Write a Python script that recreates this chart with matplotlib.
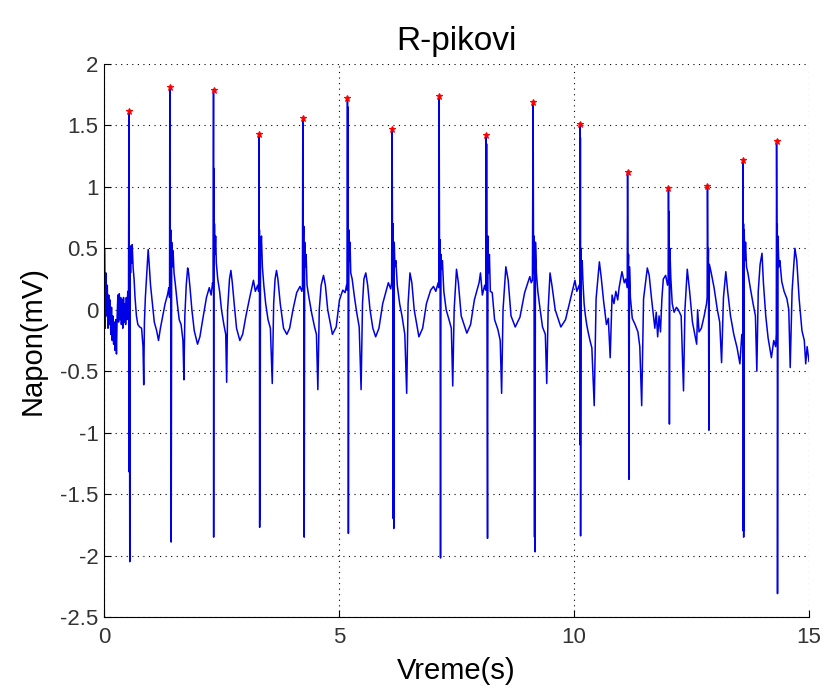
import matplotlib
matplotlib.use("Agg")
import matplotlib.pyplot as plt

# ECG trace (time in s, voltage in mV)
time_s = [
    0.000, 0.010, 0.025, 0.040, 0.055, 0.070, 0.085, 0.100, 0.115, 0.130,
    0.145, 0.160, 0.175, 0.190, 0.205, 0.220, 0.235, 0.250, 0.265, 0.280,
    0.295, 0.310, 0.325, 0.340, 0.355, 0.370, 0.385, 0.400, 0.415, 0.430,
    0.445, 0.460, 0.475, 0.490, 0.505, 0.515, 0.522,
    # beat 1
    0.530, 0.537, 0.541, 0.548, 0.556, 0.565, 0.575, 0.590, 0.600, 0.620,
    0.640, 0.660, 0.690, 0.720, 0.760, 0.800, 0.830, 0.845, 0.860, 0.880,
    0.910, 0.940, 0.960, 0.990, 1.030, 1.070, 1.120, 1.160, 1.200, 1.250,
    1.300, 1.350, 1.380, 1.395,
    # beat 2
    1.400, 1.410, 1.420, 1.430, 1.440, 1.455, 1.470, 1.490, 1.520, 1.560,
    1.600, 1.640, 1.680, 1.700, 1.720, 1.750, 1.780, 1.800, 1.830, 1.870,
    1.920, 1.990, 2.040, 2.100, 2.180, 2.240, 2.280, 2.310, 2.325,
    # beat 3
    2.330, 2.333, 2.338, 2.345, 2.350, 2.360, 2.375, 2.390, 2.420, 2.460,
    2.500, 2.550, 2.590, 2.610, 2.630, 2.670, 2.700, 2.730, 2.770, 2.820,
    2.890, 2.950, 3.020, 3.100, 3.180, 3.220, 3.270, 3.290,
    # beat 4
    3.300, 3.304, 3.307, 3.312, 3.316, 3.320, 3.330, 3.350, 3.370, 3.400,
    3.440, 3.490, 3.540, 3.580, 3.610, 3.640, 3.670, 3.700, 3.750, 3.820,
    3.890, 3.950, 4.020, 4.100, 4.170, 4.210, 4.222,
    # beat 5
    4.230, 4.240, 4.250, 4.260, 4.270, 4.285, 4.300, 4.320, 4.360, 4.420,
    4.480, 4.520, 4.550, 4.580, 4.620, 4.670, 4.710, 4.760, 4.860, 4.940,
    5.010, 5.080, 5.130, 5.160, 5.173,
    # beat 6
    5.180, 5.185, 5.190, 5.200, 5.210, 5.220, 5.235, 5.250, 5.280, 5.330,
    5.380, 5.430, 5.470, 5.500, 5.530, 5.570, 5.610, 5.660, 5.720, 5.780,
    5.850, 5.930, 6.000, 6.050, 6.100, 6.120,
    # beat 7
    6.130, 6.140, 6.150, 6.155, 6.160, 6.165, 6.175, 6.190, 6.210, 6.240,
    6.290, 6.340, 6.400, 6.440, 6.470, 6.510, 6.550, 6.600, 6.700, 6.780,
    6.860, 6.950, 7.010, 7.060, 7.110, 7.122,
    # beat 8
    7.130, 7.140, 7.150, 7.160, 7.170, 7.185, 7.200, 7.230, 7.280, 7.340,
    7.390, 7.420, 7.450, 7.500, 7.540, 7.600, 7.720, 7.800, 7.880, 7.980,
    8.010, 8.050, 8.100, 8.122,
    # beat 9
    8.130, 8.135, 8.140, 8.160, 8.170, 8.180, 8.200, 8.220, 8.260, 8.310,
    8.380, 8.430, 8.460, 8.490, 8.550, 8.600, 8.660, 8.750, 8.850, 8.950,
    9.060, 9.090, 9.115,
    # beat 10
    9.130, 9.140, 9.150, 9.160, 9.165, 9.170, 9.180, 9.200, 9.230, 9.280,
    9.330, 9.390, 9.420, 9.450, 9.490, 9.530, 9.600, 9.720, 9.820, 9.920,
    10.020, 10.060, 10.110, 10.124,
    # beat 11
    10.130, 10.133, 10.136, 10.140, 10.150, 10.160, 10.175, 10.190, 10.215, 10.240,
    10.270, 10.300, 10.340, 10.380, 10.430, 10.470, 10.540, 10.580, 10.630, 10.690,
    10.730, 10.770, 10.810, 10.850, 10.890, 10.930, 10.960, 11.020, 11.070, 11.100,
    11.132,
    # beat 12
    11.140, 11.150, 11.160, 11.170, 11.180, 11.200, 11.240, 11.300, 11.360, 11.400,
    11.440, 11.480, 11.560, 11.600, 11.650, 11.690, 11.720, 11.750, 11.780, 11.810,
    11.840, 11.870, 11.900, 11.950, 11.990, 12.003,
    # beat 13
    12.010, 12.020, 12.025, 12.030, 12.040, 12.060, 12.090, 12.130, 12.180, 12.220,
    12.280, 12.330, 12.360, 12.410, 12.460, 12.520, 12.570, 12.610, 12.630, 12.660,
    12.710, 12.770, 12.820, 12.833,
    # beat 14
    12.840, 12.850, 12.860, 12.870, 12.880, 12.920, 12.980, 13.050, 13.100, 13.140,
    13.180, 13.230, 13.270, 13.330, 13.400, 13.470, 13.530, 13.570, 13.594,
    # beat 15
    13.600, 13.603, 13.607, 13.610, 13.620, 13.635, 13.650, 13.670, 13.700, 13.750,
    13.810, 13.860, 13.890, 13.920, 13.960, 14.000, 14.030, 14.080, 14.130, 14.200,
    14.250, 14.290, 14.304,
    # beat 16
    14.310, 14.320, 14.325, 14.330, 14.340, 14.360, 14.380, 14.420, 14.470, 14.530,
    14.570, 14.600, 14.640, 14.700, 14.740, 14.790, 14.850, 14.900, 14.930, 14.960,
    15.000,
]

voltage_mv = [
    -1.00, 0.50, -0.15, 0.30, -0.05, 0.20, -0.15, 0.12, -0.12, 0.08,
    -0.20, 0.02, -0.25, -0.05, -0.28, -0.10, -0.33, -0.08, -0.36, -0.05,
    0.12, -0.10, 0.13, -0.08, 0.10, -0.12, 0.08, -0.15, 0.10, -0.10,
    0.05, -0.12, 0.10, -0.08, 0.15, 0.05, 0.12,
    # beat 1
    1.62, -1.32, 0.35, -2.05, 0.52, 0.30, 0.50, 0.38, 0.53, 0.34,
    0.25, 0.10, -0.05, -0.12, -0.14, -0.15, -0.30, -0.61, -0.10, 0.10,
    0.30, 0.49, 0.38, 0.20, 0.05, -0.10, -0.17, -0.25, -0.15, -0.05,
    0.05, 0.12, 0.18, 0.10,
    # beat 2
    1.81, 0.20, 0.65, -1.89, 0.55, 0.35, 0.48, 0.30, 0.20, 0.05,
    -0.08, -0.12, -0.25, -0.57, -0.05, 0.20, 0.34, 0.30, 0.18, 0.00,
    -0.17, -0.28, -0.22, -0.08, 0.10, 0.18, 0.12, 0.22, 0.18,
    # beat 3
    1.79, -1.85, 1.15, 0.40, 0.70, 0.45, 0.60, 0.38, 0.25, 0.15,
    0.00, -0.12, -0.20, -0.59, 0.00, 0.25, 0.32, 0.22, 0.05, -0.15,
    -0.25, -0.20, -0.05, 0.10, 0.24, 0.15, 0.20, 0.15,
    # beat 4
    1.43, 0.30, 0.65, -1.77, 0.55, -1.70, 0.45, 0.60, 0.35, 0.20,
    0.05, -0.08, -0.15, -0.60, 0.05, 0.25, 0.32, 0.25, 0.05, -0.15,
    -0.20, -0.15, 0.00, 0.14, 0.19, 0.15, 0.18,
    # beat 5
    1.56, 0.30, 0.68, -1.85, 0.55, 0.35, 0.45, 0.20, 0.10, -0.03,
    -0.14, -0.20, -0.65, 0.00, 0.20, 0.28, 0.20, 0.00, -0.20, -0.14,
    0.08, 0.16, 0.14, 0.20, 0.16,
    # beat 6
    1.72, 0.20, 1.65, -1.82, 0.65, 0.40, 0.55, 0.30, 0.25, 0.10,
    -0.03, -0.14, -0.65, 0.05, 0.25, 0.30, 0.20, 0.00, -0.15, -0.22,
    -0.15, 0.05, 0.15, 0.22, 0.17, 0.22,
    # beat 7
    1.47, 0.30, 0.70, -1.70, 0.50, -1.78, 0.55, 0.35, 0.40, 0.20,
    0.05, -0.05, -0.20, -0.68, 0.05, 0.30, 0.22, 0.00, -0.22, -0.15,
    0.05, 0.16, 0.19, 0.15, 0.22, 0.18,
    # beat 8
    1.74, 0.30, 0.57, -2.02, 0.45, 0.33, 0.40, 0.15, 0.00, -0.08,
    -0.15, -0.62, 0.00, 0.33, 0.22, -0.05, -0.19, -0.12, 0.08, 0.22,
    0.30, 0.12, 0.20, 0.16,
    # beat 9
    1.42, 0.20, 1.35, -1.86, 0.60, 0.30, 0.45, 0.15, 0.14, -0.08,
    -0.16, -0.25, -0.68, 0.00, 0.35, 0.24, -0.05, -0.14, -0.06, 0.14,
    0.27, 0.22, 0.24,
    # beat 10
    1.69, 0.30, 0.60, -1.85, 0.40, -1.97, 0.55, 0.30, 0.15, 0.00,
    -0.14, -0.20, -0.60, 0.00, 0.30, 0.20, 0.00, -0.14, -0.08, 0.08,
    0.24, 0.15, 0.20, 0.15,
    # beat 11
    1.51, -1.10, 1.40, -1.84, 0.50, 0.25, 0.40, 0.23, 0.05, -0.04,
    -0.12, -0.18, -0.25, -0.31, -0.78, 0.09, 0.39, 0.26, 0.07, -0.12,
    -0.07, -0.39, 0.12, 0.05, 0.15, 0.08, 0.18, 0.31, 0.22, 0.25,
    0.18,
    # beat 12
    1.12, 0.30, 0.45, -1.38, 0.35, 0.10, -0.07, -0.12, -0.18, -0.30,
    -0.78, 0.09, 0.34, 0.28, 0.09, -0.05, -0.15, -0.02, -0.22, -0.05,
    -0.18, 0.09, 0.25, 0.28, 0.20, 0.24,
    # beat 13
    0.99, 0.30, 0.80, -0.93, 0.50, 0.26, 0.05, -0.02, 0.02, 0.00,
    -0.05, -0.66, 0.00, 0.33, 0.15, -0.10, -0.20, -0.28, 0.00, -0.18,
    -0.15, -0.05, 0.05, 0.10,
    # beat 14
    1.01, 0.30, 0.50, -0.98, 0.37, 0.30, 0.18, 0.00, -0.10, -0.43,
    0.10, 0.31, 0.15, -0.05, -0.20, -0.31, -0.44, -0.20, -0.30,
    # beat 15
    1.22, -1.80, 0.70, -1.85, 0.65, 0.40, 0.55, 0.35, 0.30, 0.18,
    0.05, -0.05, -0.50, 0.15, 0.37, 0.46, 0.22, -0.05, -0.23, -0.39,
    -0.25, -0.30, -0.20,
    # beat 16
    1.37, 0.30, 0.70, -2.31, 0.60, 0.35, 0.40, 0.23, 0.15, 0.09,
    0.00, -0.47, 0.15, 0.50, 0.40, 0.09, -0.17, -0.25, -0.44, -0.30,
    -0.42,
]

# detected R peaks (red markers)
peak_t = [0.53, 1.40, 2.33, 3.30, 4.23, 5.18, 6.13, 7.13, 8.13, 9.13,
          10.13, 11.14, 12.01, 12.84, 13.60, 14.31]
peak_v = [1.62, 1.81, 1.79, 1.43, 1.56, 1.72, 1.47, 1.74, 1.42, 1.69,
          1.51, 1.12, 0.99, 1.01, 1.22, 1.37]

plt.rcParams["font.family"] = ["Liberation Sans", "DejaVu Sans"]

fig = plt.figure(figsize=(8.28, 6.88), dpi=100)
ax = fig.add_axes([104 / 828, 71 / 688, 705 / 828, 553 / 688])

ax.plot(time_s, voltage_mv, color="#0000e6", linewidth=1.1)
ax.plot(peak_t, peak_v, linestyle="none", marker="*", color="red",
        markersize=5, markeredgewidth=0.8)

ax.set_xlim(0, 15)
ax.set_ylim(-2.5, 2)
ax.set_xticks([0, 5, 10, 15])
ax.set_yticks([-2.5, -2, -1.5, -1, -0.5, 0, 0.5, 1, 1.5, 2])
ax.set_yticklabels(["-2.5", "-2", "-1.5", "-1", "-0.5", "0", "0.5", "1", "1.5", "2"])

ax.grid(True, color="black", linestyle=(0, (1, 4)), linewidth=0.8)
ax.spines["top"].set_visible(False)
ax.spines["right"].set_visible(False)
ax.tick_params(direction="in", length=5, labelsize=16, labelcolor="#333333")
ax.tick_params(axis="x", pad=7)
ax.tick_params(axis="y", pad=4)

ax.set_title("R-pikovi", fontsize=24, pad=10)
ax.set_xlabel("Vreme(s)", fontsize=21, labelpad=7)
ax.set_ylabel("Napon(mV)", fontsize=21, labelpad=10)

fig.savefig("out.png", dpi=100)
